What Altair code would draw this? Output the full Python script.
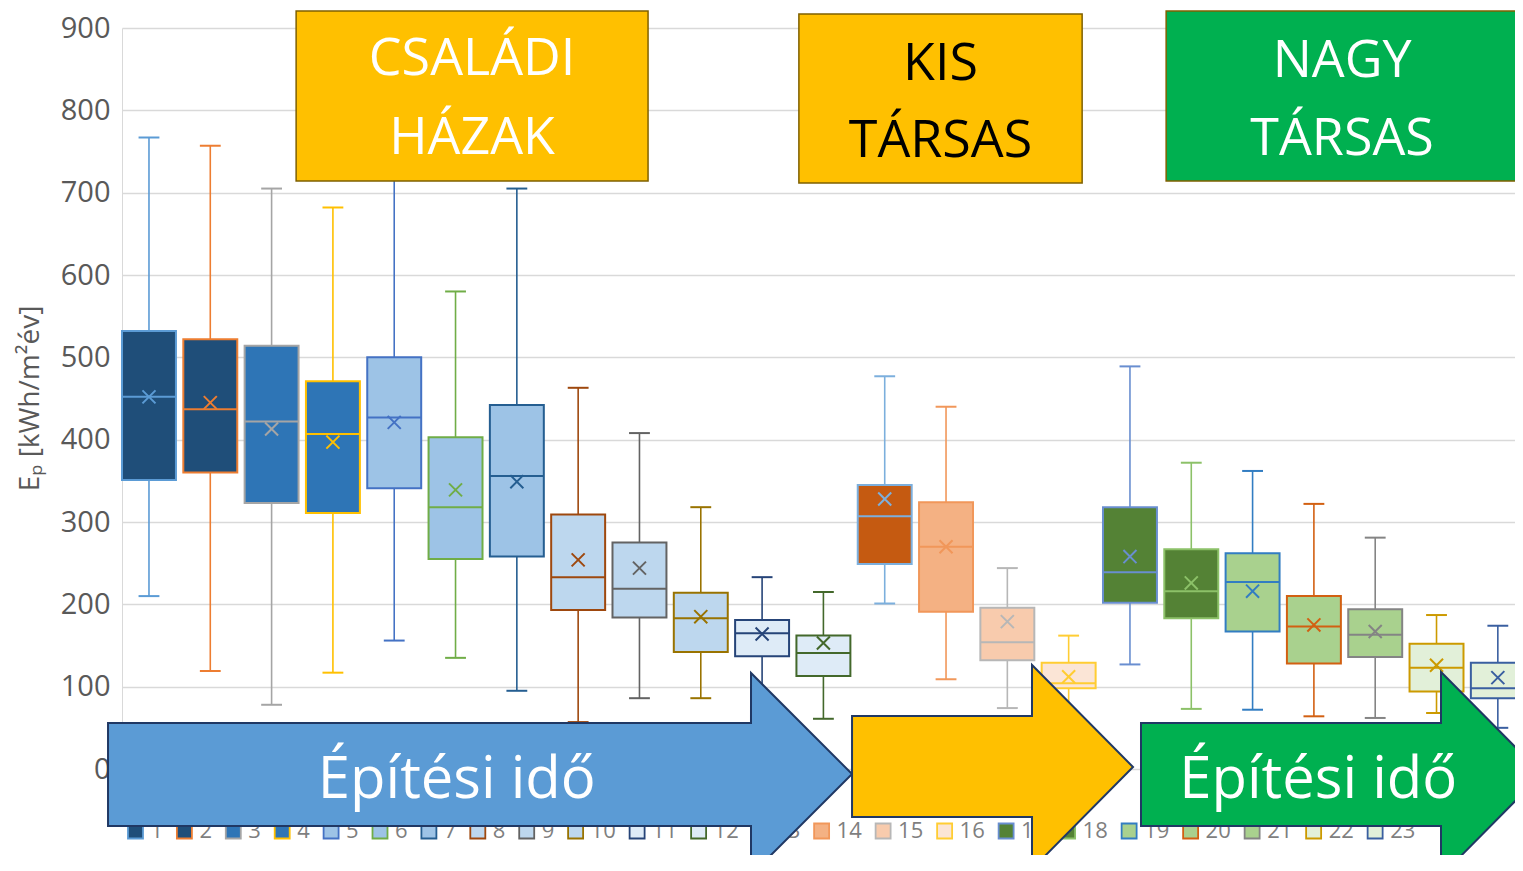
import altair as alt
import pandas as pd

# ---- data ----
names = [str(i) for i in range(1, 24)]
whisker_top = [767, 757, 705, 682, 760, 580, 705, 463, 408, 318, 233, 215,
               477, 440, 244, 162, 489, 372, 362, 322, 281, 187, 174]
q3 = [532, 522, 514, 471, 500, 403, 442, 309, 275, 214, 181, 162,
      345, 324, 196, 129, 318, 267, 262, 210, 194, 152, 129]
median = [452, 437, 422, 407, 427, 318, 356, 233, 219, 183, 165, 141,
          307, 270, 154, 104, 239, 216, 227, 173, 163, 123, 98]
q1 = [351, 360, 323, 311, 341, 255, 258, 193, 184, 142, 137, 113,
      249, 191, 132, 98, 202, 183, 167, 128, 136, 94, 86]
whisker_bottom = [210, 119, 78, 117, 156, 135, 95, 57, 86, 86, 55, 61,
                  201, 109, 74, 60, 127, 73, 72, 64, 62, 68, 50]
mean = [452, 445, 413, 397, 421, 339, 349, 254, 244, 185, 164, 153,
        328, 270, 179, 112, 258, 226, 216, 175, 167, 126, 111]

fill_colors = ["#1F4E79", "#1F4E79", "#2E75B6", "#2E75B6", "#9DC3E6", "#9DC3E6",
               "#9DC3E6", "#BDD7EE", "#BDD7EE", "#BDD7EE", "#DEEBF7", "#DEEBF7",
               "#C55A11", "#F4B183", "#F8CBAD", "#FBE5D6", "#548235", "#548235",
               "#A9D18E", "#A9D18E", "#A9D18E", "#E2F0D9", "#E2F0D9"]
line_colors = ["#5B9BD5", "#ED7D31", "#A5A5A5", "#FFC000", "#4472C4", "#70AD47",
               "#255E91", "#9E480E", "#636363", "#997300", "#264478", "#43682B",
               "#7CAFDD", "#F1975A", "#B7B7B7", "#FFCD33", "#698ED0", "#8CC168",
               "#327DC2", "#D26012", "#848484", "#CC9A00", "#3A5FA0"]

# annotation boxes (x in category units, y in value units)
label_x0 = [3.40, 11.60, 17.59]
label_x1 = [9.14, 16.22, 23.33]
label_y0 = [714.2, 711.7, 714.2]
label_y1 = [920.6, 917.0, 920.6]
label_fill = ["#FFC000", "#FFC000", "#00B050"]

label_text = ["CSALÁDI", "HÁZAK", "KIS", "TÁRSAS", "NAGY", "TÁRSAS"]
label_tx = [6.27, 6.27, 13.91, 13.91, 20.46, 20.46]
label_ty = [842.9, 747.0, 836.8, 743.3, 840.5, 745.7]
label_tcolor = ["#FFFFFF", "#FFFFFF", "#000000", "#000000", "#FFFFFF", "#FFFFFF"]

arrow_names = ["blue", "yellow", "green"]
arrow_fill = ["#5B9BD5", "#FFC000", "#00B050"]
arrow_x = [[0.332, 10.819, 10.8195, 12.467],
           [12.467, 15.402, 15.4025, 17.05],
           [17.18, 22.073, 22.0735, 23.72]]
arrow_top = [[55.9, 55.9, 116.6, -6.1],
             [64.4, 64.4, 126.3, 2.4],
             [55.9, 55.9, 117.8, -6.1]]
arrow_bot = [[-69.2, -69.2, -128.7, -6.1],
             [-58.3, -58.3, -121.5, 2.4],
             [-69.2, -69.2, -130.0, -6.1]]

arrow_text = ["Építési idő", "Építési idő"]
arrow_tx = [6.02, 20.07]
arrow_ty = [-35.2, -35.2]

FONT = "Open Sans"

df = pd.DataFrame({
    "idx": list(range(1, 24)), "name": names, "top": whisker_top, "q3": q3,
    "median": median, "q1": q1, "bottom": whisker_bottom, "mean": mean,
})

XS = alt.Scale(domain=[0.56, 23.28], nice=False, zero=False)
YS = alt.Scale(domain=[0, 900], nice=False, zero=False)
fill_scale = alt.Scale(domain=names, range=fill_colors)
stroke_scale = alt.Scale(domain=names, range=line_colors)
stroke_enc = alt.Stroke("name:N", scale=stroke_scale, legend=None)
fill_enc = alt.Fill("name:N", scale=fill_scale, legend=None)

yaxis = alt.Axis(values=list(range(0, 1000, 100)), grid=True, gridColor="#D9D9D9",
                 gridWidth=1.3, domain=True, domainColor="#D9D9D9", ticks=False,
                 labelFontSize=29, labelColor="#595959", labelFont=FONT, labelPadding=12,
                 title="Eₚ [kWh/m²év]", titleFont=FONT, titleFontSize=28,
                 titleFontWeight="normal", titleColor="#595959", titleX=-92, titleY=370,
                 titleAngle=270, titleAlign="center", titleBaseline="middle")


def X(f):
    return alt.X(f, scale=XS, axis=None)


def Y(f):
    return alt.Y(f, scale=YS, axis=yaxis)


base = alt.Chart(df).transform_calculate(
    bl="datum.idx - 0.44", br="datum.idx + 0.44",
    cl="datum.idx - 0.17", cr="datum.idx + 0.17",
)

w_up = base.mark_rule(strokeWidth=1.6).encode(
    x=X("idx:Q"), y=Y("q3:Q"), y2="top:Q", stroke=stroke_enc)
w_lo = base.mark_rule(strokeWidth=1.6).encode(
    x=X("idx:Q"), y=Y("bottom:Q"), y2="q1:Q", stroke=stroke_enc)
cap_up = base.mark_rule(strokeWidth=2).encode(
    x=X("cl:Q"), x2="cr:Q", y=Y("top:Q"), stroke=stroke_enc)
cap_lo = base.mark_rule(strokeWidth=2).encode(
    x=X("cl:Q"), x2="cr:Q", y=Y("bottom:Q"), stroke=stroke_enc)
boxes = base.mark_rect(strokeWidth=2).encode(
    x=X("bl:Q"), x2="br:Q", y=Y("q1:Q"), y2="q3:Q", fill=fill_enc, stroke=stroke_enc)
med = base.mark_rule(strokeWidth=2).encode(
    x=X("bl:Q"), x2="br:Q", y=Y("median:Q"), stroke=stroke_enc)
means = base.mark_point(shape="M-1,-1L1,1M-1,1L1,-1", filled=False, size=170,
                        strokeWidth=2, opacity=1).encode(
    x=X("idx:Q"), y=Y("mean:Q"), stroke=stroke_enc)

# manual legend (drawn under the arrows, as in the reference)
leg = base.transform_calculate(
    step="length(datum.name) == 1 ? 0.7976 : 1.0031"
).transform_window(
    cum="sum(step)", sort=[alt.SortField("idx")]
).transform_calculate(
    lx="0.78 + datum.cum - datum.step", ly="-75.3"
)
leg_sq = leg.mark_square(size=225, strokeWidth=1.8, opacity=1).encode(
    x=X("lx:Q"), y=Y("ly:Q"), fill=fill_enc, stroke=stroke_enc)
leg_tx = leg.mark_text(align="left", baseline="middle", dx=15, fontSize=22,
                       font=FONT, color="#7F7F7F").encode(
    x=X("lx:Q"), y=Y("ly:Q"), text="name:N")

ldf = pd.DataFrame({"x0": label_x0, "x1": label_x1, "y0": label_y0, "y1": label_y1,
                    "fill": label_fill})
lboxes = alt.Chart(ldf).mark_rect(stroke="#7F6000", strokeWidth=1.5).encode(
    x=X("x0:Q"), x2="x1:Q", y=Y("y0:Q"), y2="y1:Q",
    fill=alt.Fill("fill:N", scale=None))
tdf = pd.DataFrame({"t": label_text, "x": label_tx, "y": label_ty, "c": label_tcolor})
ltext = alt.Chart(tdf).mark_text(fontSize=52, font=FONT, align="center",
                                 baseline="alphabetic").encode(
    x=X("x:Q"), y=Y("y:Q"), text="t:N", color=alt.Color("c:N", scale=None))

arrows = []
for name, fc, xs, ts, bs in zip(arrow_names, arrow_fill, arrow_x, arrow_top, arrow_bot):
    adf = pd.DataFrame({"x": xs, "top": ts, "bot": bs})
    arrows.append(alt.Chart(adf).mark_area(
        interpolate="linear", orient="vertical", color=fc, fill=fc, opacity=1,
        stroke="#203864", strokeWidth=2).encode(
        x=X("x:Q"), y=Y("top:Q"), y2="bot:Q"))

atdf = pd.DataFrame({"t": arrow_text, "x": arrow_tx, "y": arrow_ty})
atext = alt.Chart(atdf).mark_text(fontSize=58, font=FONT, align="center",
                                  baseline="alphabetic", color="#FFFFFF").encode(
    x=X("x:Q"), y=Y("y:Q"), text="t:N")

chart = alt.layer(
    w_up, w_lo, cap_up, cap_lo, boxes, med, means, lboxes, ltext,
    leg_sq, leg_tx, *arrows, atext
).properties(
    width=1393, height=741,
    autosize=alt.AutoSizeParams(type="none"),
    padding={"left": 114, "top": 20, "right": 0, "bottom": 86},
    background="#FFFFFF",
).configure_view(stroke=None)

chart.save("out.html", embed_options={"renderer": "svg", "actions": False})
